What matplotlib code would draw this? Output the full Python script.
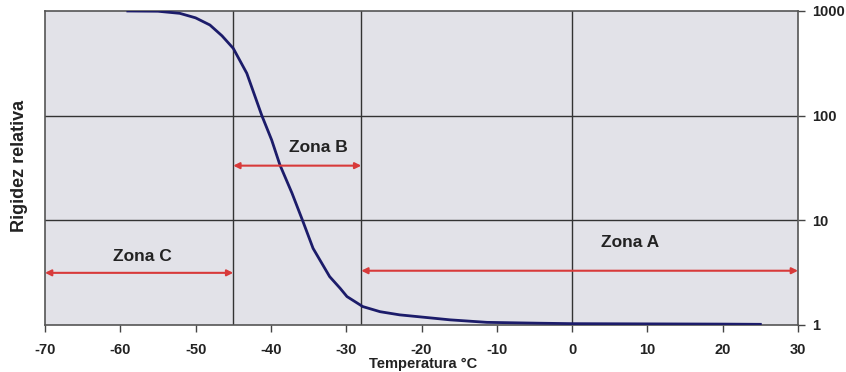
import matplotlib
matplotlib.use("Agg")
import matplotlib.pyplot as plt
from matplotlib.ticker import FixedLocator, NullLocator

# Data
temp = [-59, -55, -52.1, -50, -48.1, -46.5, -45.0, -43.2, -41.2, -39.9, -38.8, -37.2,
        -35.8, -34.4, -32.2, -30.8, -29.9, -27.8, -25.5, -22.9, -16.2, -11.3, -4.3,
        0, 10, 20, 25]
rigidez = [1000, 995, 950, 860, 735, 580, 440, 254, 100, 58.6, 33.8, 18.2,
           10, 5.4, 2.9, 2.24, 1.87, 1.50, 1.34, 1.25, 1.12, 1.06, 1.04,
           1.03, 1.025, 1.02, 1.015]

x_ticks = [-70, -60, -50, -40, -30, -20, -10, 0, 10, 20, 30]
y_ticks = [1, 10, 100, 1000]
y_tick_labels = ["1", "10", "100", "1000"]
vlines = [-45, -28, 0]

zones = ["Zona C", "Zona B", "Zona A"]
zone_start = [-70, -45, -28]
zone_end = [-45, -28, 30]
zone_arrow_y = [3.15, 33.3, 3.3]
zone_text_x = [-57.1, -33.7, 7.7]
zone_text_y = [4.47, 50, 6.08]

plt.rcParams['font.family'] = ['Liberation Sans', 'DejaVu Sans']

fig = plt.figure(figsize=(8.46, 3.72), dpi=100)
ax = fig.add_axes([45/846, 1-325/372, (798-45)/846, (325-11)/372])
ax.set_facecolor("#e2e2e8")
ax.set_yscale("log")
ax.set_xlim(-70, 30)
ax.set_ylim(1, 1000)

for v in [10, 100]:
    ax.axhline(v, color="#333333", lw=1.0, zorder=1)
for v in vlines:
    ax.axvline(v, color="#333333", lw=1.0, zorder=1)

ax.plot(temp, rigidez, color="#1c1c6a", lw=2.0, zorder=3, solid_joinstyle="round")

for name, xs, xe, ya, tx, ty in zip(zones, zone_start, zone_end, zone_arrow_y,
                                     zone_text_x, zone_text_y):
    ax.annotate("", xy=(xs, ya), xytext=(xe, ya),
                arrowprops=dict(arrowstyle="<|-|>", color="#d83a3a", lw=1.5,
                                mutation_scale=9, shrinkA=0, shrinkB=0), zorder=4)
    ax.text(tx, ty, name, ha="center", va="center", fontsize=12.5,
            fontweight="bold", color="#222222", zorder=5)

ax.xaxis.set_major_locator(FixedLocator(x_ticks))
ax.set_xticklabels([str(t) for t in x_ticks], fontsize=10.5, fontweight="bold", color="#222222")
ax.yaxis.tick_right()
ax.yaxis.set_major_locator(FixedLocator(y_ticks))
ax.yaxis.set_minor_locator(NullLocator())
ax.set_yticklabels(y_tick_labels, fontsize=10.5, fontweight="bold", color="#222222")
ax.tick_params(axis="both", direction="out", length=5, width=1, color="#444444")
ax.tick_params(axis="x", pad=8)
ax.tick_params(axis="y", pad=5)

for s in ax.spines.values():
    s.set_color("#555555")
    s.set_linewidth(1.2)

fig.text(20/846, (1 - 166/372), "Rigidez relativa", rotation=90, ha="center", va="center",
         fontsize=13, fontweight="bold", color="#222222")
fig.text(0.5, 1/372, "Temperatura °C", ha="center", va="bottom",
         fontsize=10.5, fontweight="bold", color="#222222")

fig.savefig("out.png", dpi=100, facecolor="white")
